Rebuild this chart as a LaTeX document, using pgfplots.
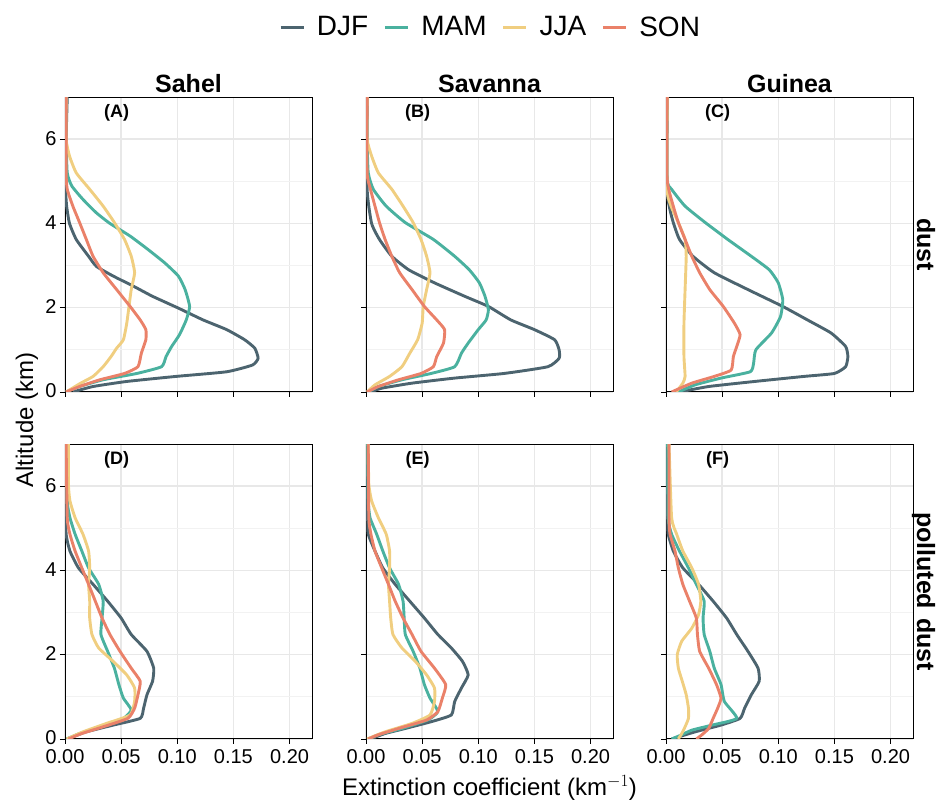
\documentclass[border=0pt]{standalone}
\usepackage{fontspec}
\setmainfont{Liberation Sans}
\usepackage{pgfplots}
\pgfplotsset{compat=1.18}

\definecolor{cDJF}{RGB}{76,100,111}
\definecolor{cMAM}{RGB}{74,177,159}
\definecolor{cJJA}{RGB}{240,206,128}
\definecolor{cSON}{RGB}{234,129,105}

\pgfplotsset{
  panel/.style={
    scale only axis, width=247pt, height=295pt,
    anchor=south west,
    xmin=0, xmax=0.22, ymin=0, ymax=7,
    xtick={0,0.05,0.1,0.15,0.2}, ytick={0,2,4,6}, minor ytick={1,3,5},
    scaled x ticks=false,
    grid=both,
    major grid style={color=black!9, line width=1.5pt},
    minor grid style={color=black!5, line width=1pt},
    axis line style={black, line width=1pt},
    tick style={black, line width=0.8pt},
    tick align=outside, tick pos=left,
    major tick length=5pt, minor tick length=0pt,
    xticklabel style={/pgf/number format/fixed, /pgf/number format/fixed zerofill, /pgf/number format/precision=2, yshift=-2pt},
    yticklabel style={yshift=1pt},
    tick label style={font=\fontsize{20}{24}\selectfont, black},
    /pgf/number format/assume math mode=true,
  },
  djf/.style={cDJF, line width=2.9pt, line join=round, smooth, tension=0.3},
  mam/.style={cMAM, line width=2.9pt, line join=round, smooth, tension=0.3},
  jja/.style={cJJA, line width=2.9pt, line join=round, smooth, tension=0.3},
  son/.style={cSON, line width=2.9pt, line join=round, smooth, tension=0.3},
}
\newcommand{\plab}[1]{\node[font=\fontsize{18}{20}\selectfont\bfseries] at (axis cs:0.046,6.63) {#1};}

\begin{document}
\begin{tikzpicture}
\path[use as bounding box] (0pt,0pt) rectangle (938pt,801pt);

% ---------------- Panel A: Sahel, dust
\begin{axis}[panel, name=A, at={(65pt,409pt)}, xticklabels={}]
\addplot[djf] coordinates {(0.002,7) (0.001,6) (0.001,5.2) (0.0005,4.8) (0.0015,4.4) (0.004,4.0) (0.010,3.62) (0.021,3.22) (0.028,2.98) (0.043,2.75) (0.061,2.51) (0.078,2.27) (0.101,1.99) (0.123,1.71) (0.144,1.48) (0.160,1.24) (0.169,1.04) (0.172,0.80) (0.167,0.64) (0.144,0.48) (0.099,0.37) (0.055,0.25) (0.025,0.13) (0.007,0)};
\addplot[mam] coordinates {(0.001,7) (0.001,6) (0.002,5.2) (0.006,4.89) (0.016,4.57) (0.028,4.25) (0.040,4.0) (0.058,3.70) (0.074,3.38) (0.089,3.06) (0.101,2.75) (0.107,2.43) (0.111,2.03) (0.108,1.71) (0.102,1.36) (0.095,1.08) (0.090,0.84) (0.086,0.60) (0.064,0.44) (0.034,0.29) (0.013,0.13) (0.001,0)};
\addplot[jja] coordinates {(0.001,7) (0.001,6) (0.004,5.6) (0.010,5.2) (0.022,4.81) (0.034,4.41) (0.044,4.02) (0.053,3.62) (0.059,3.22) (0.062,2.83) (0.059,2.43) (0.057,2.03) (0.055,1.63) (0.052,1.24) (0.046,1.04) (0.041,0.84) (0.034,0.60) (0.025,0.37) (0.014,0.21) (0.001,0)};
\addplot[son] coordinates {(0.001,7) (0.001,5.2) (0.002,4.81) (0.007,4.41) (0.013,4.02) (0.019,3.62) (0.025,3.22) (0.034,2.83) (0.046,2.43) (0.058,2.03) (0.067,1.71) (0.072,1.48) (0.072,1.24) (0.068,0.92) (0.065,0.60) (0.053,0.44) (0.031,0.29) (0.013,0.13) (0.001,0)};
\plab{(A)}
\end{axis}

% ---------------- Panel B: Savanna, dust
\begin{axis}[panel, name=B, at={(366pt,409pt)}, xticklabels={}, yticklabels={},
  legend columns=4,
  legend style={at={(0.5,1.237)}, anchor=center, draw=none, fill=none,
    font=\fontsize{28}{32}\selectfont, nodes={inner sep=0pt},
    /tikz/every odd column/.append style={column sep=12pt},
    /tikz/every even column/.append style={column sep=15pt}},
  legend image code/.code={\draw[#1, line width=3pt, sharp plot] (0pt,0pt) -- (23pt,0pt);}]
\addplot[djf] coordinates {(0.001,7) (0.001,4.81) (0.005,4.0) (0.012,3.62) (0.023,3.22) (0.038,2.90) (0.061,2.59) (0.088,2.27) (0.109,2.03) (0.129,1.71) (0.150,1.48) (0.168,1.24) (0.172,1.0) (0.172,0.80) (0.162,0.60) (0.123,0.44) (0.079,0.33) (0.041,0.21) (0.014,0.09) (0.004,0)};
\addplot[mam] coordinates {(0.001,7) (0.001,6) (0.002,5.2) (0.0065,4.81) (0.018,4.41) (0.035,4.02) (0.060,3.62) (0.079,3.22) (0.092,2.90) (0.101,2.59) (0.106,2.27) (0.109,1.95) (0.107,1.71) (0.100,1.48) (0.091,1.16) (0.085,0.92) (0.079,0.60) (0.058,0.44) (0.032,0.29) (0.011,0.13) (0.002,0)};
\addplot[jja] coordinates {(0.001,7) (0.001,6) (0.005,5.6) (0.011,5.2) (0.023,4.81) (0.033,4.41) (0.042,4.02) (0.049,3.62) (0.054,3.22) (0.057,2.83) (0.054,2.43) (0.051,2.03) (0.050,1.63) (0.046,1.24) (0.039,0.92) (0.032,0.60) (0.021,0.37) (0.008,0.17) (0.001,0)};
\addplot[son] coordinates {(0.001,7) (0.001,5.2) (0.004,4.81) (0.008,4.41) (0.012,4.02) (0.017,3.62) (0.023,3.22) (0.030,2.83) (0.041,2.43) (0.052,2.03) (0.063,1.71) (0.070,1.48) (0.069,1.16) (0.063,0.84) (0.060,0.60) (0.049,0.44) (0.029,0.29) (0.011,0.13) (0.001,0)};
\legend{DJF,MAM,JJA,SON}
\plab{(B)}
\end{axis}

% ---------------- Panel C: Guinea, dust
\begin{axis}[panel, name=C, at={(666pt,409pt)}, xticklabels={}, yticklabels={}]
\addplot[djf] coordinates {(0.001,7) (0.001,4.81) (0.0035,4.33) (0.0065,4.02) (0.012,3.62) (0.024,3.22) (0.043,2.83) (0.073,2.43) (0.104,2.03) (0.126,1.71) (0.147,1.40) (0.160,1.08) (0.162,0.84) (0.160,0.60) (0.150,0.44) (0.123,0.37) (0.079,0.25) (0.038,0.13) (0.012,0)};
\addplot[mam] coordinates {(0.001,7) (0.001,5.05) (0.005,4.81) (0.017,4.41) (0.035,4.02) (0.055,3.62) (0.076,3.22) (0.092,2.90) (0.100,2.59) (0.104,2.19) (0.102,1.79) (0.094,1.40) (0.080,1.0) (0.078,0.68) (0.075,0.48) (0.049,0.33) (0.026,0.17) (0.011,0)};
\addplot[jja] coordinates {(0.001,7) (0.001,4.81) (0.0045,4.41) (0.011,4.02) (0.017,3.62) (0.018,3.22) (0.017,2.43) (0.016,1.63) (0.016,0.84) (0.017,0.37) (0.015,0.21) (0.009,0)};
\addplot[son] coordinates {(0.001,7) (0.001,5.05) (0.0065,4.41) (0.011,4.02) (0.017,3.62) (0.023,3.22) (0.030,2.83) (0.039,2.43) (0.051,2.03) (0.061,1.63) (0.066,1.36) (0.063,1.08) (0.060,0.84) (0.058,0.52) (0.043,0.37) (0.023,0.21) (0.005,0)};
\plab{(C)}
\end{axis}

% ---------------- Panel D: Sahel, polluted dust
\begin{axis}[panel, name=D, at={(65pt,62pt)}]
\addplot[djf] coordinates {(0.0015,7) (0.001,5.65) (0.001,4.86) (0.0044,4.46) (0.012,4.06) (0.025,3.67) (0.038,3.27) (0.050,2.87) (0.059,2.48) (0.073,2.08) (0.079,1.68) (0.078,1.37) (0.073,1.05) (0.070,0.73) (0.067,0.49) (0.043,0.33) (0.019,0.17) (0.0015,0)};
\addplot[mam] coordinates {(0.0015,7) (0.002,5.65) (0.0044,5.25) (0.009,4.86) (0.015,4.46) (0.021,4.06) (0.030,3.67) (0.034,3.27) (0.033,2.87) (0.032,2.48) (0.038,2.08) (0.044,1.68) (0.048,1.29) (0.052,0.97) (0.059,0.69) (0.052,0.49) (0.031,0.29) (0.013,0.13) (0.0015,0)};
\addplot[jja] coordinates {(0.003,7) (0.003,6.05) (0.0044,5.65) (0.009,5.25) (0.016,4.86) (0.021,4.46) (0.022,4.06) (0.021,3.67) (0.022,3.27) (0.022,2.87) (0.024,2.48) (0.030,2.16) (0.043,1.84) (0.055,1.52) (0.062,1.21) (0.062,0.89) (0.058,0.57) (0.037,0.37) (0.016,0.17) (0.0015,0)};
\addplot[son] coordinates {(0.001,7) (0.002,5.25) (0.0044,4.86) (0.009,4.46) (0.015,4.06) (0.021,3.67) (0.027,3.27) (0.033,2.87) (0.040,2.48) (0.049,2.08) (0.059,1.68) (0.067,1.37) (0.065,1.05) (0.062,0.73) (0.056,0.49) (0.034,0.29) (0.015,0.13) (0.003,0)};
\plab{(D)}
\end{axis}

% ---------------- Panel E: Savanna, polluted dust
\begin{axis}[panel, name=E, at={(366pt,62pt)}, yticklabels={}]
\addplot[djf] coordinates {(0.0015,7) (0.0015,5.25) (0.002,4.86) (0.008,4.46) (0.015,4.06) (0.026,3.67) (0.039,3.27) (0.052,2.87) (0.064,2.48) (0.076,2.16) (0.086,1.84) (0.091,1.52) (0.085,1.21) (0.079,0.89) (0.076,0.57) (0.058,0.41) (0.035,0.25) (0.017,0.13) (0.004,0)};
\addplot[mam] coordinates {(0.0015,7) (0.002,5.65) (0.0036,5.25) (0.0095,4.86) (0.015,4.46) (0.021,4.06) (0.029,3.67) (0.033,3.27) (0.034,2.87) (0.035,2.48) (0.042,2.08) (0.048,1.68) (0.052,1.29) (0.057,0.97) (0.064,0.65) (0.055,0.45) (0.032,0.25) (0.011,0.10) (0.002,0)};
\addplot[jja] coordinates {(0.002,7) (0.0025,6.05) (0.005,5.65) (0.011,5.25) (0.018,4.86) (0.021,4.46) (0.021,4.06) (0.020,3.67) (0.021,3.27) (0.022,2.87) (0.024,2.48) (0.032,2.16) (0.044,1.84) (0.054,1.52) (0.061,1.21) (0.061,0.89) (0.057,0.57) (0.041,0.37) (0.017,0.17) (0.001,0)};
\addplot[son] coordinates {(0.002,7) (0.0025,5.25) (0.0044,4.86) (0.008,4.46) (0.014,4.06) (0.020,3.67) (0.026,3.27) (0.033,2.87) (0.041,2.48) (0.049,2.08) (0.061,1.68) (0.071,1.29) (0.068,0.97) (0.064,0.65) (0.054,0.45) (0.029,0.25) (0.011,0.10) (0.002,0)};
\plab{(E)}
\end{axis}

% ---------------- Panel F: Guinea, polluted dust
\begin{axis}[panel, name=F, at={(666pt,62pt)}, yticklabels={}]
\addplot[djf] coordinates {(0.0015,7) (0.0015,5.25) (0.002,4.86) (0.0065,4.46) (0.015,4.06) (0.029,3.67) (0.042,3.27) (0.054,2.87) (0.063,2.48) (0.073,2.08) (0.082,1.68) (0.083,1.37) (0.076,1.05) (0.070,0.73) (0.066,0.49) (0.049,0.33) (0.026,0.17) (0.005,0)};
\addplot[mam] coordinates {(0.0015,7) (0.002,5.25) (0.005,4.86) (0.012,4.46) (0.020,4.06) (0.027,3.67) (0.034,3.27) (0.033,2.87) (0.034,2.48) (0.039,2.08) (0.043,1.68) (0.049,1.29) (0.052,0.89) (0.063,0.49) (0.041,0.33) (0.023,0.21) (0.014,0.10) (0.005,0)};
\addplot[jja] coordinates {(0.0027,7) (0.005,5.25) (0.0095,4.86) (0.015,4.46) (0.023,4.06) (0.029,3.67) (0.031,3.27) (0.029,2.95) (0.023,2.63) (0.014,2.32) (0.010,2.0) (0.011,1.68) (0.0145,1.37) (0.018,1.05) (0.020,0.73) (0.020,0.49) (0.017,0.29) (0.014,0.13) (0.011,0)};
\addplot[son] coordinates {(0.0027,7) (0.0027,5.25) (0.0036,4.86) (0.008,4.46) (0.011,4.06) (0.015,3.67) (0.021,3.27) (0.027,2.87) (0.028,2.48) (0.030,2.08) (0.038,1.68) (0.045,1.29) (0.049,0.97) (0.046,0.73) (0.042,0.49) (0.038,0.25) (0.032,0.10) (0.027,0)};
\plab{(F)}
\end{axis}

% ---------------- titles and labels
\foreach \p/\t in {A/Sahel, B/Savanna, C/Guinea}
  \node[anchor=base, font=\fontsize{25}{30}\selectfont\bfseries, yshift=5pt] at (\p.north) {\t};
\node[anchor=base, rotate=-90, font=\fontsize{25}{30}\selectfont\bfseries] at ([xshift=4pt]C.east) {dust};
\node[anchor=base, rotate=-90, font=\fontsize{25}{30}\selectfont\bfseries] at ([xshift=4pt]F.east) {polluted\hspace{9pt}dust};
\node[anchor=base, rotate=90, font=\fontsize{24}{28}\selectfont] at (33pt,381pt) {Altitude (km)};
\node[anchor=base, font=\fontsize{24}{28}\selectfont] at (489.5pt,5pt) {Extinction coefficient (km$^{-1}$)};
\end{tikzpicture}
\end{document}
